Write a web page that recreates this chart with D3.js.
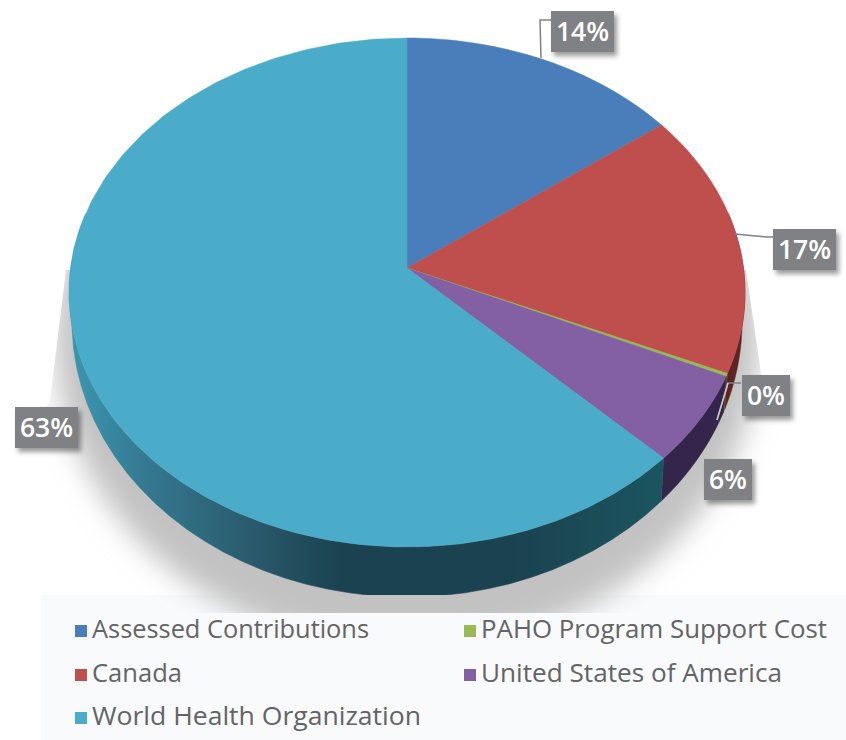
<!DOCTYPE html>
<html><head><meta charset="utf-8">
<script src="https://cdn.jsdelivr.net/npm/d3@7"></script>
<style>html,body{margin:0;padding:0;background:#fff}svg{display:block}</style>
</head><body><svg id="c" width="846" height="740"></svg>
<script>
const categories = ["Assessed Contributions","Canada","PAHO Program Support Cost","United States of America","World Health Organization"];
const values = [13.5,16.5,0.2,5.9,63.4];
const colors = ["#4a7ebb","#be4f4d","#98b954","#8360a4","#4aacc8"];
const wallColors = ["#2c4a70","#5e2322","#4e5f2a","#33264a","url(#tealWall)"];
const legendOrder = [[0,2],[1,3],[4]];
const legendWidths = [277,90,346,301,329];
const labelText = values.map(v=>d3.format(".0f")(v)+"%");

const svg = d3.select("#c"), defs = svg.append("defs");
const top_ = {cx:407,cy:292.5,rx:338,ry:254.5}, bot = {cx:407,cy:322,rx:335,ry:275}, apex=[407,268];
const pt = (e,a)=>[e.cx+e.rx*Math.sin(a), e.cy-e.ry*Math.cos(a)];
const samples = (a0,a1)=>d3.range(0,41).map(i=>a0+(a1-a0)*i/40);
const line = d3.line();
const arcs = d3.pie().sort(null)(values);

const blur = defs.append("filter").attr("id","blur").attr("x","-20%").attr("y","-20%").attr("width","140%").attr("height","140%");
blur.append("feGaussianBlur").attr("stdDeviation",14);
const ds = defs.append("filter").attr("id","ds").attr("x","-20%").attr("y","-20%").attr("width","150%").attr("height","150%");
ds.append("feDropShadow").attr("dx",3).attr("dy",4).attr("stdDeviation",2.5).attr("flood-color","#000").attr("flood-opacity",.4);
const g = defs.append("linearGradient").attr("id","tealWall").attr("gradientUnits","userSpaceOnUse")
  .attr("x1",80).attr("x2",660).attr("y1",0).attr("y2",0);
[[0,"#3a93ad"],[.12,"#34788f"],[.3,"#2a5a6c"],[.45,"#1b4250"],[.75,"#1b4250"],[1,"#1b5560"]]
  .forEach(([o,c])=>g.append("stop").attr("offset",o).attr("stop-color",c));
defs.append("clipPath").attr("id","shClip").append("path")
  .attr("d",line([[66,270],[50,400],[0,470],[0,613],[846,613],[846,470],[762,380],[746,270]])+"Z");
defs.append("clipPath").attr("id","pieClip").append("rect").attr("x",0).attr("y",0).attr("width",846).attr("height",595);

// legend panel
svg.append("rect").attr("x",41).attr("y",595).attr("width",805).attr("height",145).attr("fill","#f9fafc");

// shadow
svg.append("g").attr("clip-path","url(#shClip)").append("ellipse")
  .attr("cx",407).attr("cy",340).attr("rx",352).attr("ry",310).attr("fill","#c2c2c2").attr("filter","url(#blur)");

const pie = svg.append("g").attr("clip-path","url(#pieClip)");
// walls
arcs.forEach((d,i)=>{
  const a0=Math.max(d.startAngle,Math.PI*0.4), a1=Math.min(d.endAngle,Math.PI*1.6);
  if(a1<=a0) return;
  const s=samples(a0,a1);
  const p=s.map(a=>pt(top_,a)).concat(s.slice().reverse().map(a=>pt(bot,a)));
  pie.append("path").attr("d",line(p)+"Z").attr("fill",wallColors[i]).attr("stroke",wallColors[i]).attr("stroke-width",.5);
});
// top face
arcs.forEach((d,i)=>{
  const s=samples(d.startAngle,d.endAngle);
  const p=[apex].concat(s.map(a=>pt(top_,a)));
  pie.append("path").attr("d",line(p)+"Z").attr("fill",colors[i]).attr("stroke",colors[i]).attr("stroke-width",.5);
});

// leaders
const leader0=[[717,420],[728,383],[741,383]];
const leaders=[[[541,58],[540,20],[551,20]],[[735,234],[767,237],[773,237]],leader0];
svg.append("g").selectAll("path").data(leaders).join("path")
  .attr("d",d=>line(d)).attr("fill","none").attr("stroke","#808184").attr("stroke-width",1.5);
svg.append("path").attr("d",line(leader0.slice(0,2))).attr("fill","none").attr("stroke","#c9cacc").attr("stroke-width",1.5);

// labels
const boxes=[[551,11,63],[773,229,63],[742,375,48],[704,459,48],[15,407,63]];
const lab=svg.append("g").selectAll("g").data(labelText).join("g").attr("transform",(d,i)=>`translate(${boxes[i][0]},${boxes[i][1]})`);
lab.append("rect").attr("width",(d,i)=>boxes[i][2]).attr("height",41).attr("fill","#808184").attr("filter","url(#ds)");
lab.append("text").attr("x",(d,i)=>boxes[i][2]/2).attr("y",30).attr("text-anchor","middle")
  .attr("font-family","'Open Sans'").attr("font-weight",600).attr("font-size",26.5).attr("fill","#fff").text(d=>d);

// legend
const colX=[75,464], rowY=[625,669,712];
legendOrder.forEach((row,r)=>row.forEach((idx,c)=>{
  svg.append("rect").attr("x",colX[c]).attr("y",rowY[r]).attr("width",12).attr("height",12).attr("fill",colors[idx]);
  svg.append("text").attr("x",colX[c]+17).attr("y",rowY[r]+13).attr("font-family","'Open Sans'").attr("font-size",25.5)
    .attr("textLength",legendWidths[idx]).attr("lengthAdjust","spacingAndGlyphs").attr("fill","#636466").text(categories[idx]);
}));
</script></body></html>
